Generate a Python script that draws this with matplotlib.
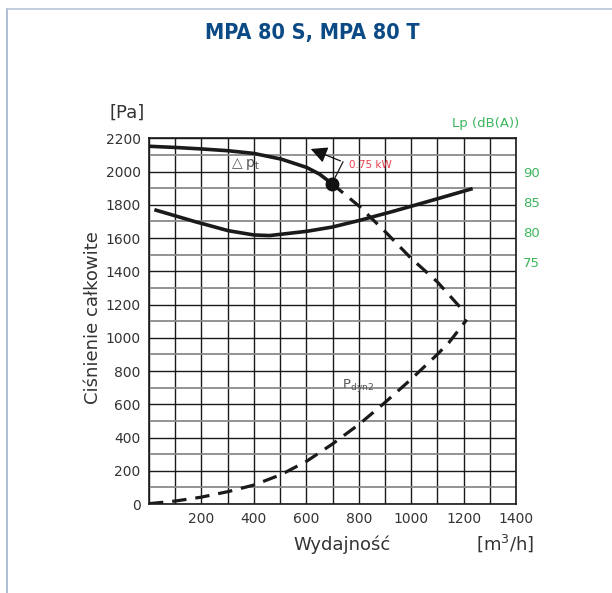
import numpy as np
import matplotlib.pyplot as plt
from matplotlib.lines import Line2D

# Krzywa spiętrzenia całkowitego (Δp_t)
dp_q = [0, 100, 200, 303, 400, 504, 601, 650, 698]
dp_pa = [2152, 2145, 2136, 2125, 2109, 2075, 2025, 1985, 1927]

# Dalszy przebieg krzywej (linia przerywana)
dash_q = [698, 802, 900, 996, 1100, 1206]
dash_pa = [1927, 1791, 1640, 1484, 1336, 1150]

# Ciśnienie dynamiczne P_dyn2
dyn_q = [0, 101, 199, 303, 400, 504, 601, 698, 802, 899, 996, 1100, 1145, 1212]
dyn_pa = [2, 18, 41, 75, 114, 177, 257, 359, 480, 609, 745, 900, 973, 1109]

# Poziom hałasu Lp [dB(A)]
lp_q = [27, 176, 303, 400, 460, 601, 698, 802, 922, 996, 1101, 1228]
lp_db = [83.6, 81.7, 80.2, 79.5, 79.4, 80.1, 80.8, 81.9, 83.3, 84.2, 85.5, 87.1]

# punkt pracy
op_q, op_pa = 698, 1927

x_ticks = [200, 400, 600, 800, 1000, 1200, 1400]
y_ticks = list(range(0, 2201, 200))
lp_ticks = [75, 80, 85, 90]

green = "#3cb55a"
txt = "#333333"

fig = plt.figure(figsize=(6.12, 5.93), dpi=100)
ax = fig.add_axes([149 / 612, 89 / 593, 367 / 612, 365.7 / 593])

# siatka
for q in range(0, 1401, 100):
    ax.axvline(q, color="#1a1a1a", lw=1.0, zorder=1)
for p in range(0, 2201, 100):
    if p % 200 == 0:
        ax.axhline(p, color="#1a1a1a", lw=1.0, zorder=1)
    else:
        ax.axhline(p, color="#8a8a8a", lw=1.3, zorder=1)

ax.plot(dp_q, dp_pa, color="#1a1a1a", lw=2.6, solid_capstyle="round", zorder=3)
ax.plot(dash_q, dash_pa, color="#1a1a1a", lw=2.3, dashes=(4.5, 2.8), zorder=3)
ax.plot(dyn_q, dyn_pa, color="#1a1a1a", lw=2.3, dashes=(4.5, 2.8), zorder=3)
ax.plot([op_q], [op_pa], "o", color="#111111", ms=9, zorder=4)

# strzałka mocy
ax.plot([op_q, 740], [op_pa, 2058], color="#1a1a1a", lw=0.9, zorder=3)
ax.annotate("", xy=(607, 2142), xytext=(740, 2058),
            arrowprops=dict(arrowstyle="-|>,head_length=1.0,head_width=0.5",
                            color="#111111", lw=0.9), zorder=4)
ax.text(762, 2040, "0.75 kW", color="#e8414e", fontsize=7.5, va="center", ha="left")
ax.text(305, 2045, r"$\triangle$p$_\mathregular{t}$", color="#555555", fontsize=10,
        va="center", ha="left")
ax.text(735, 715, r"P$_\mathregular{dyn2}$", color="#555555", fontsize=9.5,
        va="center", ha="left")

ax.set_xlim(0, 1400)
ax.set_ylim(0, 2200)
ax.set_xticks(x_ticks)
ax.set_yticks(y_ticks)
ax.tick_params(length=0, labelsize=10, colors=txt, pad=6)
for s in ax.spines.values():
    s.set_color("#1a1a1a")
    s.set_linewidth(1.2)
    s.set_zorder(5)

# oś hałasu
ax2 = ax.twinx()
ax2.plot(lp_q, lp_db, color="#1a1a1a", lw=2.6, zorder=3)
ax2.set_ylim(90 - 2000 / 36.33, 90 + 200 / 36.33)
ax2.set_yticks(lp_ticks)
ax2.tick_params(length=0, labelsize=9.5, colors=green, pad=5)
for s in ax2.spines.values():
    s.set_visible(False)

fig.text(127 / 612, 1 - 113 / 593, "[Pa]", fontsize=13, color=txt, ha="center", va="center")
fig.text(93 / 612, 1 - 318 / 593, "Ciśnienie całkowite", fontsize=13, color=txt,
         ha="center", va="center", rotation=90)
fig.text(342 / 612, 1 - 545 / 593, "Wydajność", fontsize=13, color=txt, ha="center", va="center")
fig.text(505 / 612, 1 - 543 / 593, r"[m$^3$/h]", fontsize=13, color=txt, ha="center", va="center")
fig.text(486 / 612, 1 - 123 / 593, "Lp (dB(A))", fontsize=9.5, color=green, ha="center", va="center")

fig.text(312 / 612, 1 - 33 / 593, "MPA 80 S, MPA 80 T", fontsize=15.5, fontweight="bold",
         fontstretch="condensed", color="#0b4a85", ha="center", va="center",
         family="DejaVu Sans")

# ramka strony
fig.add_artist(Line2D([7 / 612, 7 / 612], [0, 1 - 9 / 593], color="#9fb3cc", lw=1.2))
fig.add_artist(Line2D([7 / 612, 1], [1 - 9 / 593, 1 - 9 / 593], color="#b8c6d8", lw=1.2))

fig.savefig("out.png", dpi=100)
